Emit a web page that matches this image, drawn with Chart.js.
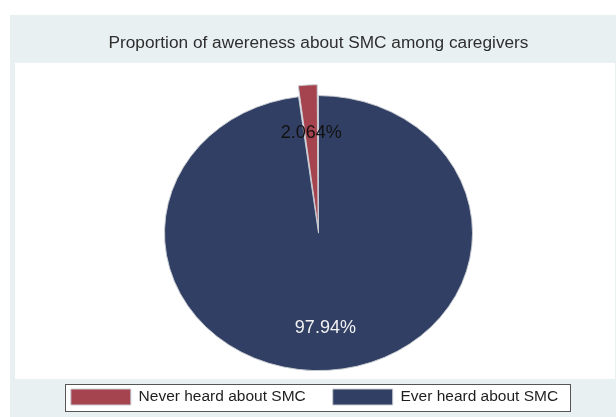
<!DOCTYPE html>
<html>
<head>
<meta charset="utf-8">
<script src="https://cdn.jsdelivr.net/npm/chart.js@4.4.1/dist/chart.umd.min.js"></script>
<style>
  html, body { margin: 0; padding: 0; background: #fff; }
  #wrap { width: 616px; height: 417px; }
</style>
</head>
<body>
<div id="wrap"><canvas id="pie"></canvas></div>
<script>
// ----- data -----
const titleText = 'Proportion of awereness about SMC among caregivers';
const labels = ['Never heard about SMC', 'Ever heard about SMC'];
const shares = [2.064, 97.94];
const shareText = ['2.064%', '97.94%'];
const colors = ['#a5444e', '#303f63'];
const labelColors = ['#111111', '#f2f2f2'];
const explode = [26, 0];

const squash = 0.893;   // pie is drawn a bit flattened like the source

// stata-like panels behind everything
const panels = {
  id: 'panels',
  afterLayout(chart) {
    // legend sits a few px left of centre in the source
    chart.legend.left -= 4;
    chart.legend.right -= 4;
  },
  beforeDraw(chart) {
    const {ctx} = chart;
    ctx.save();
    ctx.fillStyle = '#ffffff';
    ctx.fillRect(0, 0, chart.width, chart.height);
    ctx.fillStyle = '#e9f0f2';
    ctx.fillRect(10, 15, chart.width - 10, chart.height - 15);
    ctx.fillStyle = '#ffffff';
    ctx.fillRect(15, 63, chart.width - 16, 316);

    // legend frame
    const hb = chart.legend.legendHitBoxes;
    if (hb && hb.length) {
      const l = Math.min(...hb.map(b => b.left)) - 6;
      const r = Math.max(...hb.map(b => b.left + b.width)) + 12;
      const t = hb[0].top - 5;
      const b = hb[0].top + hb[0].height + 6;
      ctx.fillStyle = '#ffffff';
      ctx.fillRect(l, t, r - l, b - t);
      ctx.strokeStyle = '#555555';
      ctx.lineWidth = 1;
      ctx.strokeRect(Math.round(l) + 0.5, Math.round(t) + 0.5, Math.round(r - l), Math.round(b - t));
    }
    ctx.restore();
  }
};

// flatten the pie vertically around its centre
const ellipse = {
  id: 'ellipse',
  beforeDatasetsDraw(chart) {
    const arc = chart.getDatasetMeta(0).data[1];
    const {ctx} = chart;
    ctx.save();
    ctx.translate(arc.x, arc.y);
    ctx.scale(1, squash);
    ctx.translate(-arc.x, -arc.y);
  },
  afterDatasetsDraw(chart) {
    chart.ctx.restore();
    // percent labels
    const {ctx} = chart;
    const meta = chart.getDatasetMeta(0);
    const cx = meta.data[1].x, cy = meta.data[1].y;
    ctx.save();
    ctx.font = '18px "Liberation Sans", Arial, sans-serif';
    ctx.textAlign = 'center';
    ctx.textBaseline = 'middle';
    meta.data.forEach((a, i) => {
      const mid = (a.startAngle + a.endAngle) / 2;
      const rr = a.outerRadius * 0.69 + explode[i] / 4;
      const x = cx + Math.cos(mid) * rr;
      const y = cy + Math.sin(mid) * rr * squash;
      ctx.fillStyle = labelColors[i];
      ctx.fillText(shareText[i], x, y);
    });
    ctx.restore();
  }
};

new Chart(document.getElementById('pie'), {
  type: 'pie',
  data: {
    labels: labels,
    datasets: [{
      data: shares,
      backgroundColor: colors,
      borderColor: '#c9ccd3',
      borderWidth: 1,
      offset: explode,
      radius: 154
    }]
  },
  options: {
    responsive: true,
    maintainAspectRatio: false,
    animation: false,
    rotation: -shares[0] * 3.6,
    layout: { padding: { left: 21, right: 0, top: 0, bottom: 2 } },
    plugins: {
      title: {
        display: true,
        text: titleText,
        color: '#2e2e2e',
        font: { family: '"Liberation Sans", Arial, sans-serif', size: 17.25, weight: 'normal' },
        padding: { top: 33, bottom: 50.5 }
      },
      legend: {
        position: 'bottom',
        labels: {
          color: '#1e1e1e',
          font: { family: '"Liberation Sans", Arial, sans-serif', size: 15.5 },
          boxWidth: 60,
          boxHeight: 16,
          padding: 27
        }
      },
      tooltip: { enabled: false }
    }
  },
  plugins: [panels, ellipse]
});
</script>
</body>
</html>
